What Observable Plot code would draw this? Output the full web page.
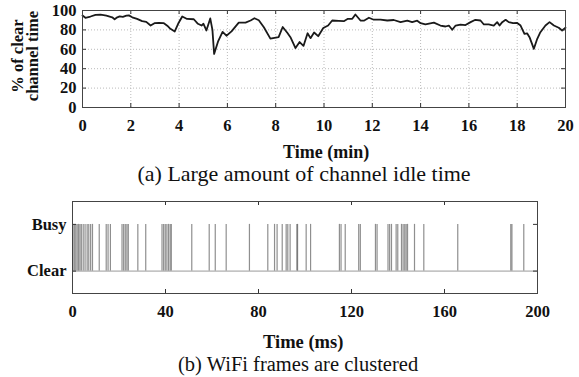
<!DOCTYPE html>
<html>
<head>
<meta charset="utf-8">
<script src="https://cdn.jsdelivr.net/npm/d3@7"></script>
<script src="https://cdn.jsdelivr.net/npm/@observablehq/plot@0.6"></script>
<style>
  html, body { margin: 0; padding: 0; background: #fff; }
  #wrap { position: relative; width: 579px; height: 377px; overflow: hidden; font-family: "Liberation Serif", "Times New Roman", serif; color: #111; }
  #wrap svg { position: absolute; left: 0; }
  .lbl { position: absolute; font-weight: bold; white-space: nowrap; }
  .cap { position: absolute; white-space: nowrap; }
</style>
</head>
<body>
<div id="wrap"></div>
<script>
// ---- Data: (a) % of clear channel time vs time (min)
const timeMin = [0,0.12,0.33,0.54,0.75,0.99,1.23,1.33,1.44,1.54,1.67,1.82,1.92,2.06,2.26,2.47,2.64,2.82,2.98,3.16,3.37,3.51,3.64,3.82,3.96,4.13,4.33,4.61,4.78,4.93,5.01,5.13,5.29,5.38,5.45,5.62,5.80,5.96,6.17,6.47,6.75,6.96,7.12,7.30,7.51,7.78,8.12,8.29,8.48,8.61,8.82,8.99,9.15,9.32,9.44,9.59,9.76,9.97,10.17,10.34,10.61,10.82,10.99,11.17,11.30,11.51,11.65,11.86,12.06,12.34,12.62,12.89,13.17,13.45,13.65,13.86,14.0,14.2,14.55,14.82,15.03,15.17,15.31,15.45,15.65,15.86,16.07,16.27,16.48,16.62,16.82,17.03,17.17,17.27,17.38,17.52,17.65,17.83,18.0,18.14,18.30,18.41,18.51,18.69,18.83,18.96,19.17,19.34,19.52,19.72,19.86,20.0];
const clearPct = [94.8,92.5,93.8,95.5,95.7,94.8,93,91,93,94,93.5,94.8,95,93,91.3,89,88.3,84.5,86.9,87.2,86.9,84.3,81.1,78.4,86.3,93.8,91.3,91,86.3,84.5,86.3,79.4,91.8,80,55.3,68.5,78,74,78.5,87.5,87.5,89.7,92,90,82.8,71,72.5,83,77,72.5,61.3,67.5,63.5,76.5,71.5,77.3,73.5,82,84.5,89.7,89.3,89,91.4,91.4,95.9,89.7,89.5,92.5,90.5,90.5,89.7,90.2,88,89.5,88,89.5,86.9,85.6,87.5,84.5,83.5,84.5,80.1,84.5,85.5,85,88,90.4,89.7,85.6,85.6,84.5,88,84.5,88,90.4,88,87,87.2,84.5,76,76.5,72.5,60.5,70.8,77.6,84.5,88,84.5,82.2,79.4,82.2];
const xTicksA = [0,2,4,6,8,10,12,14,16,18,20];
const yTicksA = [0,20,40,60,80,100];

// ---- Data: (b) WiFi frame start times (ms)
const frameMs = [0.2,0.8,1.4,2.0,2.6,3.2,3.8,4.6,5.4,6.3,7.0,7.8,8.6,11.5,14.5,15.3,16.3,21.3,22.0,22.7,23.4,24.0,28.1,31.5,38.5,39.2,39.9,40.6,41.3,42.0,42.5,51.3,58.8,61.4,66.1,76.1,84.0,86.9,88.0,90.2,91.9,92.6,93.6,96.5,96.8,100.5,102.4,114.8,115.5,117.3,123.1,123.8,130.3,131.0,135.7,136.4,137.2,139.2,139.9,141.5,142.2,142.9,143.5,144.1,147.1,151.1,165.7,188.5,189.0,194.1];
const stateLabels = ["Clear", "Busy"];
const xTicksB = [0,40,80,120,160,200];

const serif = '"Liberation Serif", "Times New Roman", serif';
const wrap = document.getElementById("wrap");

// ---------- Chart (a)
const A = {width: 579, height: 140, mt: 10, mb: 33, ml: 82, mr: 14};
const Ah = A.height - A.mt - A.mb, Aw = A.width - A.ml - A.mr;
const seriesA = timeMin.map((t, i) => ({t, v: clearPct[i]}));
const chartA = Plot.plot({
  width: A.width, height: A.height,
  marginTop: A.mt, marginBottom: A.mb, marginLeft: A.ml, marginRight: A.mr,
  style: {fontFamily: serif, fontSize: "16.5px", fontWeight: "bold", color: "#111", background: "transparent"},
  x: {domain: [0, 20]},
  y: {domain: [0, 100]},
  marks: [
    Plot.gridX(xTicksA, {stroke: "#bbb", strokeOpacity: 1, strokeDasharray: "1,2"}),
    Plot.gridY(yTicksA, {stroke: "#bbb", strokeOpacity: 1, strokeDasharray: "1,2"}),
    Plot.line(seriesA, {x: "t", y: "v", stroke: "#1a1a1a", strokeWidth: 1.8}),
    Plot.tickX(xTicksA, {x: d => d, insetTop: Ah - 4, stroke: "#333"}),
    Plot.tickX(xTicksA, {x: d => d, insetBottom: Ah - 4, stroke: "#333"}),
    Plot.tickY(yTicksA, {y: d => d, insetRight: Aw - 4, stroke: "#333"}),
    Plot.tickY(yTicksA, {y: d => d, insetLeft: Aw - 4, stroke: "#333"}),
    Plot.frame({stroke: "#444"}),
    Plot.axisX(xTicksA, {tickSize: 0, tickPadding: 12, label: null}),
    Plot.axisY(yTicksA, {tickSize: 0, tickPadding: 6, label: null})
  ]
});
chartA.style.top = "0px";
wrap.appendChild(chartA);

// ---------- Chart (b)
const B = {top: 190, width: 579, height: 130, mt: 11, mb: 27, ml: 72, mr: 42};
const Bh = B.height - B.mt - B.mb, Bw = B.width - B.ml - B.mr;
const chartB = Plot.plot({
  width: B.width, height: B.height,
  marginTop: B.mt, marginBottom: B.mb, marginLeft: B.ml, marginRight: B.mr,
  style: {fontFamily: serif, fontSize: "16.5px", fontWeight: "bold", color: "#111", background: "transparent"},
  x: {domain: [0, 200]},
  y: {domain: [-0.48, 1.49]},
  marks: [
    Plot.ruleY([0], {stroke: "#999", strokeWidth: 1}),
    Plot.ruleX(frameMs, {x: d => d, y1: 0, y2: 1, stroke: "#444", strokeOpacity: 0.6, strokeWidth: 1.2}),
    Plot.tickX(xTicksB, {x: d => d, insetTop: Bh - 4, stroke: "#333"}),
    Plot.tickX(xTicksB, {x: d => d, insetBottom: Bh - 4, stroke: "#333"}),
    Plot.tickY([0, 1], {y: d => d, insetRight: Bw - 4, stroke: "#333"}),
    Plot.tickY([0, 1], {y: d => d, insetLeft: Bw - 4, stroke: "#333"}),
    Plot.frame({stroke: "#444"}),
    Plot.axisX(xTicksB, {tickSize: 0, tickPadding: 12, label: null}),
    Plot.axisY([0, 1], {tickSize: 0, tickPadding: 6, label: null, tickFormat: d => stateLabels[d]})
  ]
});
chartB.style.top = B.top + "px";
wrap.appendChild(chartB);

// ---------- Titles and captions
function addDiv(cls, text, cx, cy, size) {
  const d = document.createElement("div");
  d.className = cls;
  d.textContent = text;
  d.style.fontSize = size + "px";
  d.style.lineHeight = size + "px";
  wrap.appendChild(d);
  const w = d.offsetWidth, h = d.offsetHeight;
  d.style.left = (cx - w / 2) + "px";
  d.style.top = (cy - h / 2) + "px";
  return d;
}
addDiv("lbl", "Time (min)", 326, 152, 18);
addDiv("cap", "(a) Large amount of channel idle time", 304, 173.5, 22);
addDiv("lbl", "Time (ms)", 303, 342, 18.5);
addDiv("cap", "(b) WiFi frames are clustered", 298, 364, 20.5);

// rotated two-line y label for (a)
const yl = document.createElement("div");
yl.className = "lbl";
yl.style.textAlign = "center";
yl.style.fontSize = "16.5px";
yl.style.lineHeight = "15px";
yl.innerHTML = "% of clear<br>channel time";
wrap.appendChild(yl);
const w = yl.offsetWidth, h = yl.offsetHeight;
yl.style.left = (25 - w / 2) + "px";
yl.style.top = (56 - h / 2) + "px";
yl.style.transform = "rotate(-90deg)";
</script>
</body>
</html>
